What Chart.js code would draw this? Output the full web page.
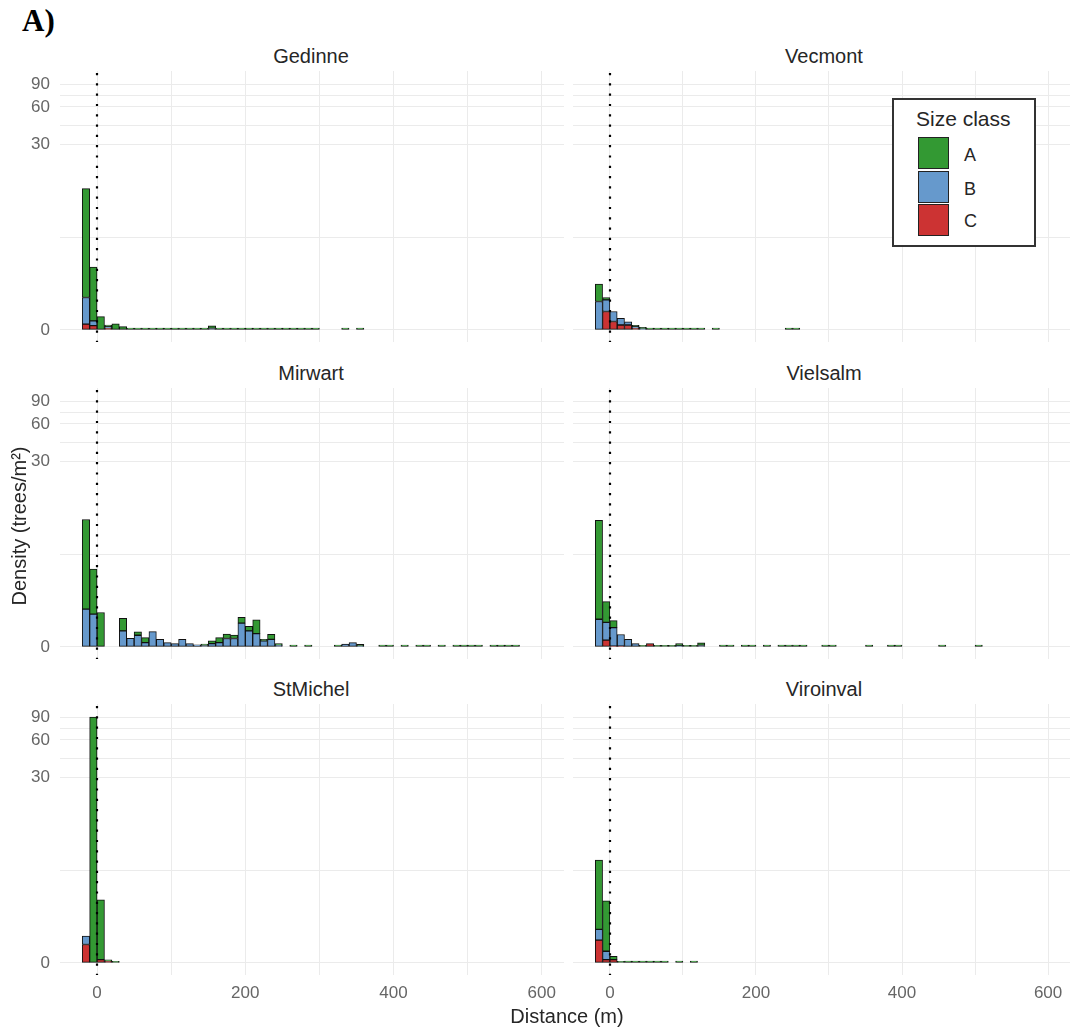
<!DOCTYPE html>
<html>
<head>
<meta charset="utf-8">
<title>Density by distance</title>
<script src="https://cdn.jsdelivr.net/npm/chart.js@4.4.0/dist/chart.umd.min.js"></script>
<style>
  html, body { margin: 0; padding: 0; background: #fff; overflow: hidden; }
  body { width: 1073px; height: 1033px; position: relative; font-family: "Liberation Sans", Arial, sans-serif; }
  canvas { position: absolute; }
  .txt { position: absolute; white-space: nowrap; color: #262626; }
  .strip { font-size: 20px; line-height: 20px; text-align: center; }
  .key { position: absolute; width: 31px; height: 32px; box-sizing: border-box; border: 1.5px solid #222; }
</style>
</head>
<body>
<script>
// size classes, stacked bottom to top: C, B, A
const classNames = ['A', 'B', 'C'];
const classColors = ['#339933', '#6699CC', '#CC3333'];

// bin centres (m), 10 m bins; densities (trees/m²) per class, missing = 0
const gedinneBins = [-15, -5, 5, 15, 25, 35, 45, 55, 65, 75, 85, 95, 105, 115, 125, 135, 145, 155,
  165, 175, 185, 195, 205, 215, 225, 235, 245, 255, 265, 275, 285, 295, 335, 355];
const gedinneA = [7.25, 2.32, 0.49, 0.06, 0.22, 0.12, 0.07, 0.07, 0.07, 0.07, 0.07, 0.07, 0.07, 0.07, 0.07, 0.07, 0.07, 0.1,
  0.07, 0.07, 0.07, 0.07, 0.07, 0.07, 0.07, 0.07, 0.07, 0.07, 0.07, 0.07, 0.07, 0.07, 0.07, 0.07];
const gedinneB = [1.02, 0.17, 0, 0.06, 0, 0, 0, 0, 0, 0, 0, 0, 0, 0, 0, 0, 0, 0.05];
const gedinneC = [0.21, 0.16, 0, 0.06];

const vecmontBins = [-15, -5, 5, 15, 25, 35, 45, 55, 65, 75, 85, 95, 105, 115, 125, 145, 245, 255];
const vecmontA = [0.65, 0.085, 0, 0, 0, 0.05, 0.05, 0.07, 0.07, 0.07, 0.07, 0.07, 0.07, 0.07, 0.07, 0.07, 0.07, 0.07];
const vecmontB = [1.09, 0.43, 0.37, 0.25, 0.12, 0.06, 0.04];
const vecmontC = [0, 0.69, 0.31, 0.18, 0.18, 0.06];

const mirwartBins = [-15, -5, 5, 35, 45, 55, 65, 75, 85, 95, 105, 115, 125, 135, 145, 155, 165, 175, 185, 195,
  205, 215, 225, 235, 245, 265, 285, 325, 335, 345, 355, 385, 395, 415, 435, 445, 465, 485, 495, 505, 515,
  535, 545, 555, 565];
const mirwartA = [4.99, 1.85, 1.35, 0.46, 0, 0.13, 0.18, 0, 0, 0, 0, 0, 0, 0, 0.05, 0.1, 0.18, 0.16, 0.125, 0.21,
  0.16, 0.51, 0.06, 0.18, 0.06, 0.07, 0.07, 0.07, 0, 0, 0.06, 0.07, 0.07, 0.07, 0.07, 0.07, 0.07, 0.07, 0.07, 0.07, 0.07,
  0.07, 0.07, 0.07, 0.07];
const mirwartB = [1.5, 1.28, 0, 0.6, 0.32, 0.43, 0.16, 0.57, 0.28, 0.16, 0.12, 0.28, 0.12, 0.074, 0.05, 0.12, 0.16, 0.31, 0.31, 0.9,
  0.6, 0.49, 0.22, 0.28, 0.06, 0, 0, 0, 0.1, 0.16, 0.03];
const mirwartC = [];

const vielsalmBins = [-15, -5, 5, 15, 25, 35, 45, 55, 65, 75, 85, 95, 105, 115, 125, 155, 165, 185, 195,
  215, 235, 245, 255, 265, 295, 305, 355, 385, 395, 455, 505];
const vielsalmA = [5.98, 0.78, 0.26, 0, 0, 0, 0.06, 0, 0.06, 0.06, 0.06, 0.08, 0.06, 0.06, 0.1, 0.07, 0.07, 0.07, 0.07,
  0.07, 0.07, 0.07, 0.07, 0.07, 0.07, 0.07, 0.07, 0.07, 0.07, 0.07, 0.07];
const vielsalmB = [1.06, 0.66, 0.69, 0.43, 0.28, 0.12, 0, 0, 0, 0, 0, 0.04, 0, 0, 0.05];
const vielsalmC = [0, 0.25, 0.03, 0.03, 0, 0, 0, 0.12];

const stmichelBins = [-15, -5, 5, 15, 25];
const stmichelA = [0, 91, 2.67, 0.05, 0.06];
const stmichelB = [0.31];
const stmichelC = [0.69, 0, 0.12, 0.06];

const viroinvalBins = [-15, -5, 5, 15, 25, 35, 45, 55, 65, 75, 95, 115];
const viroinvalA = [3.29, 2.12, 0.12, 0.06, 0.07, 0.07, 0.07, 0.07, 0.07, 0.07, 0.07, 0.07];
const viroinvalB = [0.4, 0.31];
const viroinvalC = [0.86, 0.12, 0.12];

// axis ticks (y is pseudo-log: asinh(v / 2))
const xTicks = [0, 100, 200, 300, 400, 500, 600];
const xTickLabels = ['0', '', '200', '', '400', '', '600'];
const yBreaks = [0, 30, 60, 90];

const sites = [
  { name: 'Gedinne', bins: gedinneBins, A: gedinneA, B: gedinneB, C: gedinneC },
  { name: 'Vecmont', bins: vecmontBins, A: vecmontA, B: vecmontB, C: vecmontC },
  { name: 'Mirwart', bins: mirwartBins, A: mirwartA, B: mirwartB, C: mirwartC },
  { name: 'Vielsalm', bins: vielsalmBins, A: vielsalmA, B: vielsalmB, C: vielsalmC },
  { name: 'StMichel', bins: stmichelBins, A: stmichelA, B: stmichelB, C: stmichelC },
  { name: 'Viroinval', bins: viroinvalBins, A: viroinvalA, B: viroinvalB, C: viroinvalC }
];

const tr = v => Math.asinh(v / 2);

// major breaks plus minor lines half way between them
const yTickVals = [];
const yTickLabels = [];
yBreaks.forEach((b, i) => {
  if (i > 0) {
    yTickVals.push((tr(yBreaks[i - 1]) + tr(b)) / 2);
    yTickLabels.push('');
  }
  yTickVals.push(tr(b));
  yTickLabels.push(String(b));
});

Chart.defaults.font.family = '"Liberation Sans", Arial, sans-serif';

const rowTops = [71, 388, 704];
const panelH = 271;
const gridColor = '#ebebeb';

const zeroLine = {
  id: 'zeroLine',
  afterDatasetsDraw(chart) {
    const { ctx, chartArea, scales } = chart;
    const x = Math.round(scales.x.getPixelForValue(0));
    ctx.save();
    ctx.strokeStyle = '#000';
    ctx.lineWidth = 2.2;
    ctx.setLineDash([2.2, 8.1]);
    ctx.beginPath();
    ctx.moveTo(x, chartArea.top + 2);
    ctx.lineTo(x, chartArea.bottom);
    ctx.stroke();
    ctx.restore();
  }
};

function addText(text, cls, style) {
  const d = document.createElement('div');
  d.className = 'txt ' + (cls || '');
  d.textContent = text;
  Object.assign(d.style, style);
  document.body.appendChild(d);
  return d;
}

function makePanel(site, idx) {
  const col = idx % 2;
  const row = Math.floor(idx / 2);
  const isBottom = row === 2;
  const isLeft = col === 0;
  const left = isLeft ? 0 : 573;
  const width = isLeft ? 564 : 497;
  const top = rowTops[row];

  const cv = document.createElement('canvas');
  cv.width = width;
  cv.height = panelH + (isBottom ? 34 : 0);
  cv.style.left = left + 'px';
  cv.style.top = top + 'px';
  document.body.appendChild(cv);

  // C first so it sits at the bottom of the stack
  const datasets = ['C', 'B', 'A'].map(cls => ({
    label: cls,
    data: site.bins
      .map((b, i) => ({ x: b, y: tr(site[cls][i] || 0) }))
      .filter(p => p.y > 0),
    backgroundColor: classColors[classNames.indexOf(cls)],
    borderColor: '#111',
    borderWidth: 1,
    borderSkipped: false,
    barPercentage: 1,
    categoryPercentage: 1
  }));

  const noPad = s => {
    s.paddingTop = 0; s.paddingBottom = 0; s.paddingLeft = 0; s.paddingRight = 0;
  };

  new Chart(cv, {
    type: 'bar',
    data: { datasets },
    options: {
      responsive: false,
      animation: false,
      layout: { padding: 0 },
      plugins: { legend: { display: false }, tooltip: { enabled: false } },
      scales: {
        x: {
          type: 'linear',
          stacked: true,
          offset: false,
          min: isLeft ? -50 : -50.5,
          max: 630,
          afterBuildTicks: s => { s.ticks = xTicks.map(v => ({ value: v })); },
          afterFit: s => { s.height = isBottom ? 34 : 0; noPad(s); },
          grid: { color: gridColor, lineWidth: 1, drawTicks: false, offset: false },
          border: { display: false },
          ticks: {
            display: isBottom,
            padding: 8,
            color: '#666',
            font: { size: 17 },
            maxRotation: 0,
            autoSkip: false,
            callback: (v, i) => xTickLabels[i]
          }
        },
        y: {
          stacked: true,
          min: -0.222,
          max: 4.752,
          afterBuildTicks: s => { s.ticks = yTickVals.map(v => ({ value: v })); },
          afterFit: s => { s.width = isLeft ? 60 : 0; noPad(s); },
          grid: { color: gridColor, lineWidth: 1, drawTicks: false },
          border: { display: false },
          ticks: {
            display: isLeft,
            padding: 10,
            color: '#666',
            font: { size: 17 },
            autoSkip: false,
            callback: (v, i) => yTickLabels[i]
          }
        }
      }
    },
    plugins: [zeroLine]
  });

  addText(site.name, 'strip', {
    left: (isLeft ? 60 : 573) + 'px',
    width: '502px',
    top: (top - 25.4) + 'px'
  });
}

sites.forEach(makePanel);

// panel label and axis titles
addText('A)', '', {
  left: '22px', top: '6px', fontFamily: '"Liberation Serif", "Times New Roman", serif',
  fontWeight: 'bold', fontSize: '31px', lineHeight: '30px', color: '#000'
});
addText('Density (trees/m²)', '', {
  left: '-131px', top: '514px', width: '300px', textAlign: 'center',
  fontSize: '20px', lineHeight: '24px', transform: 'rotate(-90deg)'
});
addText('Distance (m)', '', {
  left: '417px', top: '1004px', width: '300px', textAlign: 'center',
  fontSize: '20px', lineHeight: '24px'
});

// legend box inside the Vecmont panel
const box = document.createElement('div');
Object.assign(box.style, {
  position: 'absolute', left: '892px', top: '98px', width: '144px', height: '149px',
  boxSizing: 'border-box', border: '2px solid #333', background: '#fff'
});
document.body.appendChild(box);
addText('Size class', '', { left: '916px', top: '108px', fontSize: '21px', lineHeight: '21px' });
const keyTops = [137, 170.5, 204];
const labelTops = [146, 179.5, 212];
classNames.forEach((c, i) => {
  const k = document.createElement('div');
  k.className = 'key';
  k.style.left = '918px';
  k.style.top = keyTops[i] + 'px';
  k.style.background = classColors[i];
  document.body.appendChild(k);
  addText(c, '', { left: '964px', top: labelTops[i] + 'px', fontSize: '18px', lineHeight: '18px' });
});
</script>
</body>
</html>
